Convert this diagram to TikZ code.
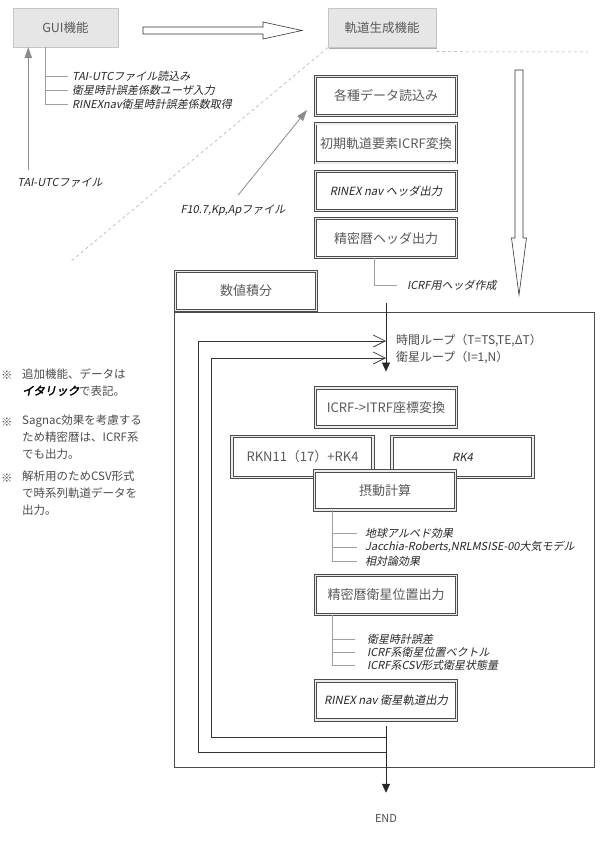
\documentclass[tikz,border=0pt]{standalone}
\usepackage{fontspec}
\setmainfont{Noto Sans CJK JP}
\newfontfamily\jpit[FakeSlant=0.2]{Noto Sans CJK JP}
\newfontfamily\jpitbf[FakeSlant=0.2,FakeBold=2.5]{Noto Sans CJK JP}
\usetikzlibrary{arrows.meta,positioning,shadows}

\definecolor{boxtext}{HTML}{5A5A5A}
\definecolor{guifill}{HTML}{E6E6E6}
\definecolor{filegray}{HTML}{8C8C8C}
\definecolor{brkgray}{HTML}{A0A0A0}

\begin{document}
\begin{tikzpicture}[x=1pt,y=-1pt,
  every node/.style={inner sep=0pt},
  proc/.style={draw=black!70,line width=0.9pt,double=gray!15,double distance=1.3pt,fill=white,
    minimum width=141pt,minimum height=39pt,text=boxtext,font=\fontsize{13}{15}\selectfont},
  itproc/.style={proc,text=black!85,font=\fontsize{11.3}{14}\jpit},
  func/.style={draw=gray!45,fill=guifill,
    drop shadow={shadow xshift=1.3pt,shadow yshift=-1.3pt,fill=gray!65,opacity=1},
    minimum height=39pt,text=boxtext,font=\fontsize{12.5}{15}\selectfont},
  add/.style={font=\fontsize{11}{13}\jpit,text=black!85},
  brk/.style={draw=brkgray,line width=0.6pt},
  filearrow/.style={draw=filegray,line width=0.8pt,-{Triangle[length=11pt,width=7.5pt]}},
  flow/.style={draw=black!85,line width=0.7pt,-{Triangle[length=9pt,width=8pt]}},
  loopline/.style={draw=black!80,line width=0.7pt,-{Straight Barb[length=12pt,width=12pt]}},
  looptext/.style={anchor=west,text=black!70,font=\fontsize{12}{14}\selectfont},
  hollow/.style={draw=black!80,line width=0.6pt,fill=white},
  zoomline/.style={draw=gray!70,dashed,line width=0.5pt},
  frame/.style={draw=black!70,line width=0.6pt},
  kome/.style={text=black!70,font=\fontsize{11.5}{17}\selectfont},
  note/.style={font=\fontsize{11.5}{17}\selectfont,text=black!70,align=left,anchor=north west}
]
\useasboundingbox (0,0) rectangle (600,856);

% functions
\node[func,minimum width=105pt] (gui) at (65.5,27.5) {GUI機能};
\node[func,minimum width=108pt] (orb) at (382,28) {軌道生成機能};

\coordinate (ha) at (143,30.5);
\coordinate (hb) at (302,30.5);
\draw[hollow] (ha) ++(0,-3.5) -- ++(120,0) -- ++(0,-5) -- (hb) -- ++(-39,8.5) -- ++(0,-5) -- ++(-120,0) -- cycle;

\coordinate (zl) at (70,262);
\coordinate (zr) at (588,52);
\draw[zoomline] (orb.south west) -- (zl);
\draw[zoomline] ([yshift=-4pt]orb.south east) -- (zr);

% GUI
\node[add,anchor=west] (g1) at (72,76) {TAI-UTCファイル読込み};
\node[add,anchor=west] (g2) at (72,90) {衛星時計誤差係数ユーザ入力};
\node[add,anchor=west] (g3) at (72,104) {RINEXnav衛星時計誤差係数取得};
\draw[brk] ([xshift=-20pt]gui.south) coordinate (gs) |- ([xshift=-4pt]g3.west);
\draw[brk] (gs |- g1.west) -- ([xshift=-4pt]g1.west);
\draw[brk] (gs |- g2.west) -- ([xshift=-4pt]g2.west);

\node[add] (tai) at (60,183) {TAI-UTCファイル};
\draw[filearrow] ([xshift=11pt,yshift=8pt]tai.north west) coordinate (tstart) -- (tstart |- gui.south);

% header part
\node[proc] (rd) at (386,96) {各種データ読込み};
\node[proc,below=7.5pt of rd] (init) {初期軌道要素ICRF変換};
\node[itproc,below=7.5pt of init] (rnh) {RINEX nav ヘッダ出力};
\node[proc,below=7.5pt of rnh] (seh) {精密暦ヘッダ出力};

\node[add] (f107) at (233,210) {F10.7,Kp,Apファイル};
\draw[filearrow] ([xshift=5pt,yshift=9pt]f107.north) -- ([xshift=-8pt,yshift=-14pt]rd.west);

\node[add,anchor=west] (hdr) at (407,285) {ICRF用ヘッダ作成};
\draw[brk] ([xshift=-12pt]seh.south) |- ([xshift=-10pt]hdr.west);

\coordinate (va) at (519,70);
\coordinate (vb) at (519,295);
\draw[hollow] (va) ++(-4,0) -- ++(0,168) -- ++(-3.5,0) -- (vb) -- ++(7.5,-57) -- ++(-3.5,0) -- ++(0,-168) -- cycle;

% numerical integration
\draw[frame] (174,312) rectangle (594,767);
\node[proc] (num) at (246,291) {数値積分};

\node[proc] (itrf) at (386,407.5) {ICRF->ITRF座標変換};
\node[proc,minimum height=41pt] (rkn) at (302.5,457) {RKN11（17）+RK4};
\node[itproc,minimum height=41pt] (rk4) at (462.5,457) {RK4};
\node[proc] (pert) at (385,490.5) {摂動計算};
\node[proc] (sepos) at (386,595) {精密暦衛星位置出力};
\node[itproc] (rnx) at (386,700.5) {RINEX nav 衛星軌道出力};
\node[text=black!70,font=\fontsize{11}{13}\selectfont] (end) at (386,818) {END};

\node[add,anchor=west] (p1) at (365,533) {地球アルベド効果};
\node[add,anchor=west] (p2) at (365,547) {Jacchia-Roberts,NRLMSISE-00大気モデル};
\node[add,anchor=west] (p3) at (365,561) {相対論効果};
\draw[brk] ([xshift=-53pt]pert.south) coordinate (ps) |- ([xshift=-8pt]p3.west);
\draw[brk] (ps |- p1.west) -- ([xshift=-8pt]p1.west);
\draw[brk] (ps |- p2.west) -- ([xshift=-8pt]p2.west);

\node[add,anchor=west] (s1) at (367,639) {衛星時計誤差};
\node[add,anchor=west] (s2) at (367,652) {ICRF系衛星位置ベクトル};
\node[add,anchor=west] (s3) at (367,665) {ICRF系CSV形式衛星状態量};
\draw[brk] ([xshift=-54pt]sepos.south) coordinate (ss) |- ([xshift=-12pt]s3.west);
\draw[brk] (ss |- s1.west) -- ([xshift=-12pt]s1.west);
\draw[brk] (ss |- s2.west) -- ([xshift=-12pt]s2.west);

% flow and loops
\coordinate (fin) at (386,303);
\draw[flow,shorten >=16pt] (fin) -- (itrf);
\draw[flow,shorten <=6pt,shorten >=21pt] (rnx) -- (end);

\coordinate (tin) at (386,341);
\coordinate (sin) at (386,358);
\coordinate (tout) at (386,752);
\coordinate (sout) at (386,737);
\coordinate (tcorner) at (198,341);
\coordinate (scorner) at (211,358);
\draw[loopline] (tout) -| (tcorner) -- (tin);
\draw[loopline] (sout) -| (scorner) -- (sin);
\node[looptext] (tloop) at (396,341) {時間ループ（T=TS,TE,ΔT）};
\node[looptext] (sloop) at (396,358) {衛星ループ（I=1,N）};

% notes
\node[kome] (k1) at (7,375) {※};
\node[note] (n1) at (22,368) {追加機能、データは\\{\jpitbf\color{black}イタリック}で表記。};
\node[kome] (k2) at (7,422) {※};
\node[note] (n2) at (22,415) {Sagnac効果を考慮する\\ため精密暦は、ICRF系\\でも出力。};
\node[kome] (k3) at (7,478) {※};
\node[note] (n3) at (22,471) {解析用のためCSV形式\\で時系列軌道データを\\出力。};

\end{tikzpicture}
\end{document}
